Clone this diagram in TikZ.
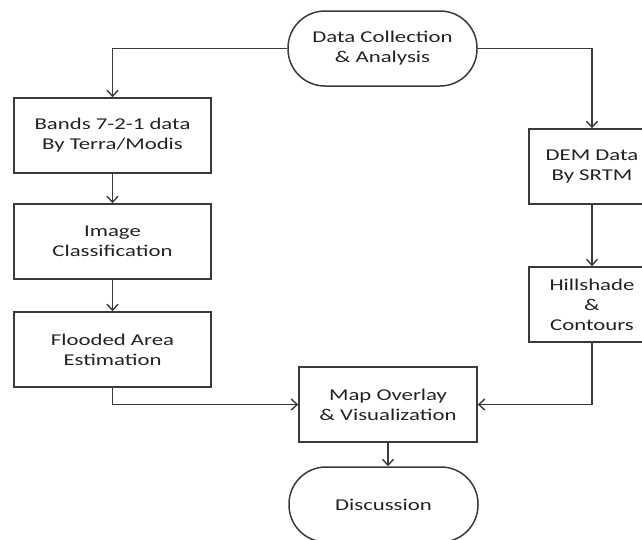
\documentclass[tikz,border=0pt]{standalone}
\usepackage{fontspec}
\setmainfont{Carlito}[FakeStretch=1.38]
\usepackage{xcolor}
\usepackage{tikz}
\usetikzlibrary{arrows.meta}

\definecolor{linegray}{HTML}{3A3A3A}
\definecolor{textgray}{HTML}{222222}

\begin{document}
\begin{tikzpicture}[x=1pt, y=-1pt,
    every node/.style={font=\fontsize{16.5}{20}\selectfont, text=textgray, align=center},
    procbox/.style={draw=linegray, line width=1.5pt, minimum height=75pt, inner sep=0pt},
    termbox/.style={draw=linegray, line width=1.5pt, minimum width=189pt, minimum height=75pt, rounded corners=37pt, inner sep=0pt},
    arr/.style={draw=linegray, line width=1.4pt, -{Straight Barb[length=6pt, width=11pt]}}]
    % Page frame, the right column is cut by the edge
    \useasboundingbox (0,0) rectangle (642,539);
    \clip (0,0) rectangle (642,539);

    % Start and end
    \node[termbox] (coll) at (382.5,48.5) {Data Collection\\\& Analysis};
    \node[termbox] (disc) at (383.5,504.5) {Discussion};

    % Left column
    \node[procbox, minimum width=197pt] (band) at (112.5,135.5) {Bands 7-2-1 data\\By Terra/Modis};
    \node[procbox, minimum width=197pt] (cls) at (112.5,241.5) {Image\\Classification};
    \node[procbox, minimum width=197pt] (flood) at (112.5,349.5) {Flooded Area\\Estimation};

    % Right column
    \node[procbox, minimum width=126pt] (dem) at (592,166.5) {DEM Data\\By SRTM};
    \node[procbox, minimum width=126pt] (hill) at (592,304.5) {Hillshade\\\&\\Contours};

    % Middle
    \node[procbox, minimum width=178pt] (map) at (388,404.5) {Map Overlay\\\& Visualization};

    % Connectors
    \draw[arr] (coll.west) -| (band.north);
    \draw[arr] (band) -- (cls);
    \draw[arr] (cls) -- (flood);
    \draw[arr] (coll.east) -| (dem.north);
    \draw[arr] (dem) -- (hill);
    \draw[arr] (flood.south) |- (map.west);
    \draw[arr] (hill.south) |- (map.east);
    \draw[arr] (map.south) -- (map.south |- disc.north);
\end{tikzpicture}
\end{document}
